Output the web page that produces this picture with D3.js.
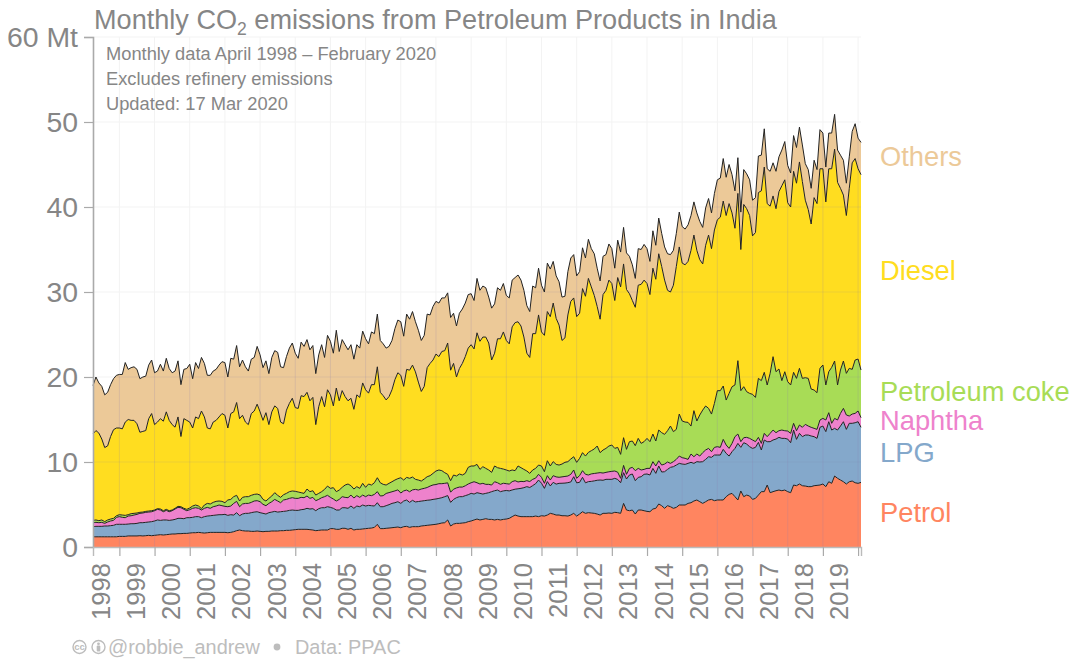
<!DOCTYPE html>
<html><head><meta charset="utf-8">
<script src="https://cdn.jsdelivr.net/npm/d3@7"></script>
<style>html,body{margin:0;padding:0;background:#fff}svg{display:block}text{font-family:"Liberation Sans",Arial,sans-serif}</style>
</head><body><svg id="c" width="1071" height="659"></svg>
<script>
// Cumulative stack levels (Mt CO2), monthly April 1998 - February 2020
const petrolTop=[1.2,1.2,1.2,1.2,1.2,1.2,1.2,1.2,1.2,1.25,
1.25,1.25,1.3,1.3,1.3,1.3,1.33,1.3,1.33,1.37,
1.33,1.37,1.41,1.45,1.41,1.45,1.49,1.53,1.53,1.57,
1.57,1.6,1.6,1.64,1.68,1.68,1.72,1.68,1.64,1.68,
1.72,1.72,1.72,1.72,1.72,1.72,1.68,1.72,1.8,1.92,
2.0,1.92,1.88,1.88,1.84,1.84,1.88,1.84,1.8,1.84,
1.84,1.88,1.88,1.88,1.92,1.92,1.96,1.96,2.0,2.04,
2.08,2.08,2.08,2.08,2.04,2.0,1.92,1.96,2.0,2.0,
2.0,2.16,2.16,2.08,2.08,2.2,2.2,2.08,2.2,2.0,
2.08,2.08,2.12,2.16,2.2,2.23,2.31,2.67,2.16,2.16,
2.2,2.23,2.27,2.31,2.35,2.27,2.39,2.43,2.31,2.39,
2.39,2.39,2.47,2.51,2.55,2.59,2.63,2.67,2.74,2.82,
2.86,3.18,2.47,2.7,2.78,2.78,2.82,2.86,2.98,3.06,
3.18,3.29,3.18,3.25,3.33,3.25,3.25,3.18,3.25,3.18,
3.25,3.29,3.37,3.57,3.76,3.64,3.57,3.57,3.57,3.57,
3.57,3.64,3.57,3.68,3.64,3.76,3.96,3.88,3.76,3.76,
3.68,3.68,3.64,3.76,3.96,3.64,3.88,4.15,3.96,4.04,
4.0,3.96,3.88,3.76,3.96,3.96,4.0,3.96,4.08,4.04,
3.96,5.13,4.35,4.27,4.35,3.88,4.35,4.35,4.27,4.19,
4.15,4.47,4.55,5.06,4.86,4.55,4.86,4.74,4.55,4.66,
4.94,4.94,4.94,5.13,5.21,5.41,5.53,5.33,5.13,5.33,
5.53,5.6,5.45,5.53,5.53,5.53,5.92,6.19,6.31,5.92,
5.53,6.59,5.92,6.11,6.0,5.6,5.72,6.11,6.51,6.51,
7.29,6.39,6.51,6.62,6.7,6.62,6.7,6.51,6.39,7.29,
7.21,7.41,7.21,7.17,7.1,7.1,7.21,7.25,7.29,7.41,
7.1,7.68,7.49,8.35,8.08,7.88,7.68,7.41,7.68,7.76,
7.56,7.49,7.6];
const lpgTop=[2.39,2.43,2.43,2.43,2.47,2.47,2.51,2.55,2.67,2.67,
2.67,2.67,2.7,2.74,2.74,2.78,2.86,2.86,2.9,2.94,
2.98,3.06,3.18,3.13,3.18,3.18,3.13,3.18,3.25,3.37,
3.37,3.33,3.45,3.45,3.49,3.57,3.57,3.45,3.57,3.64,
3.68,3.72,3.76,3.8,3.8,3.84,3.72,3.8,3.76,4.04,
3.68,3.88,3.96,3.96,4.04,4.11,4.15,4.04,3.96,3.88,
4.04,4.11,4.19,4.11,4.15,4.19,4.23,4.31,4.35,4.31,
4.31,4.39,4.43,4.55,4.47,4.51,4.27,4.51,4.62,4.62,
4.74,4.66,4.55,4.35,4.35,4.62,4.62,4.55,4.82,4.55,
4.82,4.74,4.94,4.82,4.9,4.86,4.82,5.21,4.74,4.74,
4.86,4.98,5.13,5.21,5.33,5.13,5.41,5.53,5.25,5.49,
5.3,5.35,5.4,5.45,5.5,5.53,5.6,5.65,5.72,5.8,
5.92,6.05,5.25,5.6,5.8,5.92,5.92,6.04,6.15,6.31,
6.23,6.39,6.31,6.23,6.31,6.39,6.51,6.62,6.7,6.51,
6.6,6.65,6.6,6.71,6.8,6.85,6.9,6.98,7.1,7.0,
7.22,7.45,7.88,7.5,6.9,7.7,7.18,7.61,7.4,7.49,
7.5,7.52,7.57,7.65,8.27,7.55,7.61,8.2,7.55,7.69,
7.72,7.78,7.85,7.88,7.85,7.96,7.96,7.96,8.08,7.95,
7.56,8.74,8.0,8.47,8.59,7.8,8.19,8.27,8.55,8.59,
8.47,9.25,8.66,9.53,8.82,8.86,9.13,9.37,9.45,9.64,
9.84,9.76,9.72,9.84,9.96,9.84,10.04,10.0,10.04,10.31,
10.62,10.55,10.82,10.82,10.82,11.49,11.02,10.7,11.21,11.6,
12.19,11.72,12.27,12.11,11.8,11.6,11.72,12.31,11.41,12.59,
12.39,12.39,12.59,12.7,12.9,12.78,12.78,12.7,12.27,13.76,
12.66,13.37,12.98,13.17,13.17,13.06,12.98,12.78,14.08,14.23,
13.57,14.74,13.76,13.96,13.76,14.23,14.74,13.84,14.55,14.55,
14.62,14.74,14.08];
const naphthaTop=[2.86,2.9,2.86,2.9,2.78,2.94,3.06,3.13,3.49,3.57,
3.49,3.45,3.64,3.68,3.76,3.84,3.96,4.0,4.08,4.11,
4.15,4.27,4.43,4.35,4.15,4.31,4.15,4.27,4.47,4.66,
4.62,4.43,4.27,4.39,4.55,4.62,4.55,4.35,4.55,4.66,
4.55,4.74,4.82,4.94,4.86,4.78,4.74,4.82,5.13,5.37,
4.74,5.06,5.13,5.13,5.25,5.41,5.45,5.33,5.02,4.86,
5.13,5.33,5.6,5.41,5.21,5.53,5.6,5.72,5.8,5.72,
5.72,5.84,5.8,6.0,5.72,5.84,5.45,5.6,5.8,5.92,
6.08,5.84,5.64,5.41,5.6,5.92,5.84,5.8,6.11,5.76,
6.04,5.84,6.11,5.92,6.11,6.04,6.19,6.51,6.0,6.04,
6.3,6.4,6.5,6.6,6.72,6.35,6.6,6.7,6.5,6.72,
6.78,6.7,6.82,6.9,7.0,7.17,7.3,7.35,7.45,7.45,
7.49,7.55,6.45,6.8,6.95,7.05,7.05,7.2,7.41,7.56,
7.68,7.56,7.41,7.49,7.37,7.37,7.29,7.68,7.56,7.37,
7.5,7.45,7.4,7.69,7.8,7.65,7.72,7.69,7.8,7.7,
7.96,8.1,8.55,8.2,7.49,8.39,7.88,8.39,8.25,8.2,
8.25,8.3,8.35,8.55,9.06,8.08,8.4,8.98,8.55,8.47,
8.6,8.65,8.7,8.75,8.7,8.78,8.85,8.9,8.94,8.8,
8.08,9.6,8.55,9.25,9.37,8.98,9.25,9.06,9.13,9.25,
9.25,10.04,9.53,10.15,9.64,9.76,10.0,9.84,10.04,10.31,
10.7,10.51,10.43,10.31,10.94,10.62,10.94,10.7,11.1,11.41,
11.6,11.21,11.72,11.8,11.72,12.66,12.0,11.6,12.19,12.98,
13.29,12.39,12.86,12.9,12.78,12.59,12.39,12.9,12.19,13.37,
12.98,13.37,13.76,13.45,13.68,13.76,13.68,13.64,13.37,14.55,
13.68,14.35,14.08,14.43,14.23,14.08,13.96,13.84,14.94,15.13,
14.94,15.8,14.55,15.13,14.94,15.72,16.31,15.53,15.41,15.64,
15.72,16.0,15.21];
const cokeTop=[3.13,3.18,3.1,3.18,2.98,3.18,3.29,3.37,3.68,3.8,
3.76,3.72,3.8,3.92,3.96,4.0,4.08,4.11,4.19,4.23,
4.27,4.35,4.51,4.47,4.27,4.43,4.27,4.35,4.55,4.78,
4.74,4.55,4.43,4.59,4.82,4.94,4.82,4.51,4.94,5.13,
5.06,5.25,5.37,5.41,5.37,5.21,5.53,5.6,5.92,6.08,
5.41,5.84,5.92,5.92,6.08,6.19,6.23,6.11,5.6,5.41,
5.72,6.0,6.39,6.08,5.84,6.15,6.31,6.51,6.59,6.55,
6.47,6.39,6.31,6.82,6.51,6.62,6.11,6.31,6.51,6.78,
7.17,6.9,6.98,6.51,6.7,7.02,7.29,7.41,7.21,6.82,
7.1,6.9,7.49,7.02,7.41,7.29,7.56,8.15,7.56,7.37,
7.29,7.49,7.68,7.88,8.04,8.15,7.88,8.19,8.08,8.23,
7.96,7.88,7.76,8.0,8.27,8.39,8.66,8.94,9.06,8.98,
8.74,8.55,7.8,8.47,8.35,8.59,8.47,8.66,9.37,9.53,
9.53,9.72,9.13,9.45,9.25,9.06,8.78,9.53,9.33,9.25,
9.17,9.06,8.94,9.06,8.98,9.53,9.33,9.13,8.94,8.66,
9.06,9.25,9.64,9.53,8.86,10.15,9.53,10.04,9.72,9.64,
9.76,9.96,10.04,10.35,10.62,9.96,10.43,11.1,10.7,11.13,
11.33,11.53,11.88,11.1,11.41,11.6,11.88,12.0,11.6,11.72,
10.9,12.86,11.49,12.39,12.47,11.92,12.78,12.19,12.39,12.78,
12.39,13.29,12.47,13.76,13.45,13.25,13.68,14.23,13.57,13.84,
15.64,14.82,14.7,14.66,14.23,16.04,14.82,15.53,16.11,16.59,
16.31,15.64,16.9,18.39,18.39,18.94,17.29,18.07,18.86,19.06,
21.92,18.39,18.86,18.27,18.07,17.96,17.6,19.84,19.57,20.55,
19.06,20.43,22.39,20.62,20.94,19.57,20.62,19.45,19.06,20.55,
19.84,21.02,19.84,19.92,19.84,18.58,18.47,18.15,21.02,21.41,
19.06,20.62,21.13,21.88,19.06,20.82,21.88,20.43,21.02,20.9,
22.0,22.11,20.82];
const dieselTop=[13.3,13.7,13.4,12.7,11.7,11.9,13,13.8,14,14,
13.9,14.7,15,14.9,14.9,14.5,13.5,13.6,13.7,15.1,
15.7,14.4,14.7,15.1,14.8,15.9,14.9,14.4,14.1,15.3,
13,15.1,14.9,14.7,14,15.3,15.1,16,15.3,14,
13.9,14.7,14.9,15.3,15.7,15.5,14,15.7,15.9,17,
15.1,15.5,14.7,14.4,15.7,16,16.8,15.9,14.9,15.8,
14.4,15.9,16.6,16.3,14.7,14.5,16.1,16.9,17.5,16.4,
16.3,17.8,17.7,18.2,17.2,17.6,14.4,16.5,17.7,16.5,
18.5,17.9,16.6,18.7,17.2,18.4,17.7,17.2,17.5,16.2,
17.9,17.6,19.3,18.5,18.1,19.1,19.1,21.2,18.2,17.8,
17.3,17.7,18.5,19.7,20.5,20.2,18.9,20.9,20.8,21.4,
20.6,19.4,18.3,18.9,21.1,21.6,22,22.7,22.4,23,
23.1,24,20.8,21.6,20,21,21.6,22.4,23.4,23.8,
23.3,25.2,24.2,24.7,24.7,24,22,22.8,24.5,24.5,
25.3,24.3,23.9,25.9,26.4,26.5,26,24.7,22.8,22.3,
25.1,25.1,27.3,25.3,24.9,27.7,27.1,28.7,26.9,26.1,
24.3,24.6,27.3,28.9,29.3,27.1,27.5,30.4,29.5,31.6,
30.6,29.6,28.3,26.8,29.7,30.2,31.4,31,29,31.7,
30.6,33.3,30.3,29.8,29,28.2,30.8,30.9,31.4,31,
29.7,32.8,31.5,34.5,33,31.4,30.2,30,30.8,33,
35.3,33.4,33.2,33.6,34.9,36.7,34.9,33.8,33.3,35.5,
36.7,35.1,37.3,38.5,38.8,40.7,39,40.4,39.3,37.5,
41.6,35,40.3,39.8,39,36.6,37,41.7,41.9,44.7,
40.4,40.1,41.3,39.8,41.8,42.5,43.2,40.5,40,44.2,
42.8,45.3,43,40.8,39.7,38,41.1,40.4,44.5,44.5,
40.6,44.5,44.5,46.8,42.9,42.2,41.4,39,42.2,45.2,
45.7,44.5,43.8];
const othersTop=[19.0,20.0,19.3,18.9,17.9,18.2,19.1,19.8,20.2,20.3,
20.3,21.7,20.9,21.1,21.2,20.9,19.8,20,20.1,21.4,
22,20.5,20.7,21.5,20.7,22.2,21,20.5,20.7,21.9,
19.1,20.9,21,21.5,19.8,21.7,21,22.3,21.6,20.2,
20.2,20.7,20.9,21.4,21.8,21.7,20,22.2,22.1,23.7,
21.2,22,21.2,20.7,22.1,22.3,23.6,22.6,21.1,21.9,
20.4,22.3,23.1,22.9,21.2,21.1,22.4,23.4,24,22.8,
22.2,24.1,23.6,24.4,23.2,23.7,20.4,22.6,23.8,22.3,
24.9,24.2,22.8,25.5,23,24.4,23.8,23.2,23.8,22.1,
23.8,23.4,25.4,24.5,23.9,25.3,25.1,27.4,24.3,23.9,
23.4,23.6,24.3,25.7,26.7,26.5,24.8,27.4,26.8,27.7,
26.5,25.5,24.3,24.9,27.4,27.3,28.3,28.9,28.7,29.3,
29.3,29.9,27,27.5,26,27.5,28,28.7,29.7,29.8,
29,31.6,30.2,30.7,30.5,29.4,28.1,28.6,30.5,30.2,
31,29.6,29.3,31.4,31.7,32,31.4,30.2,28.4,27.7,
30.7,30.5,32.8,30.8,30,33.4,32.7,33.6,31.9,31.2,
29.4,29.5,32.4,34,34.4,31.9,32.4,35.2,34,36.2,
35.1,34.5,32.8,31.3,34.2,34.4,35.65,35.1,32.8,36.1,
34.7,37.6,34.6,34.2,33.2,31.6,35.1,35,35.6,35.1,
33.6,37.2,35.5,38.7,36.9,35.3,34.5,34.4,34.9,36.9,
39.4,37.7,37.4,37.9,39,40.6,39.3,38.3,37.6,39.9,
41,39.3,41.6,43.2,43.4,45.7,43.5,45,43.8,41.9,
45.8,39.4,44.4,43.9,43.2,40.8,41.1,46,46.1,49.2,
44.5,44.2,45.2,44.2,45.9,46.7,47.7,44.9,44,48.4,
47,49.4,47.3,45.1,44.4,42.2,45.5,44.4,49.1,48.7,
44.7,48.7,48.7,50.9,46.7,46.1,45.5,42.8,45.9,48.9,
49.8,48.1,47.6];
const seriesNames=["Petrol","LPG","Naphtha","Petroleum coke","Diesel","Others"];
const seriesColors=["#FF8560","#84A8CB","#EE82CC","#A8DC56","#FFDD20","#ECC998"];
const labelYValues=[4.0,11.1,14.8,18.2,32.5,45.9];
const yTicks=[0,10,20,30,40,50,60];
const years=d3.range(1998,2020);
const titleA="Monthly CO",titleSub="2",titleB=" emissions from Petroleum Products in India";
const notes=["Monthly data April 1998 – February 2020","Excludes refinery emissions","Updated: 17 Mar 2020"];

const levels=[petrolTop,lpgTop,naphthaTop,cokeTop,dieselTop,othersTop];
const grey="#868686";
const svg=d3.select("#c");
const months=d3.range(petrolTop.length);
// month index: 0 = Apr 1998; January 1999 = 9
const x=d3.scaleLinear().domain([0,262]).range([93,861]);
const y=d3.scaleLinear().domain([0,60]).range([547,37]);
const jan=yr=>(yr-1998)*12-3;
const tickMonths=years.slice(1).map(jan).concat([jan(2020)]);

// light grid below
const gridBack=svg.append("g");
yTicks.forEach(t=>gridBack.append("line").attr("x1",x(0)).attr("x2",x(262)).attr("y1",y(t)).attr("y2",y(t)).attr("stroke","#f3f3f3"));
tickMonths.forEach(m=>gridBack.append("line").attr("x1",x(m)).attr("x2",x(m)).attr("y1",y(60)).attr("y2",y(0)).attr("stroke","#f3f3f3"));

levels.forEach((lv,k)=>{
  const area=d3.area().x(i=>x(i)).y0(i=>y(k?levels[k-1][i]:0)).y1(i=>y(lv[i])).curve(d3.curveLinear);
  svg.append("path").attr("d",area(months)).attr("fill",seriesColors[k]);
});
// grid showing through the fills only
svg.append("clipPath").attr("id","stackClip").append("path")
  .attr("d",d3.area().x(i=>x(i)).y0(y(0)).y1(i=>y(othersTop[i]))(months));
const gridFront=svg.append("g").attr("clip-path","url(#stackClip)");
yTicks.slice(1).forEach(t=>gridFront.append("line").attr("x1",x(0)).attr("x2",x(262)).attr("y1",y(t)).attr("y2",y(t)).attr("stroke","#8a7fb0").attr("stroke-opacity",.14));
tickMonths.forEach(m=>gridFront.append("line").attr("x1",x(m)).attr("x2",x(m)).attr("y1",y(60)).attr("y2",y(0)).attr("stroke","#8a7fb0").attr("stroke-opacity",.2));

levels.forEach(lv=>{
  const line=d3.line().x(i=>x(i)).y(i=>y(lv[i]));
  svg.append("path").attr("d",line(months)).attr("fill","none").attr("stroke","#222").attr("stroke-width",1).attr("stroke-linejoin","round");
});

// axes
const yAxis=d3.axisLeft(y).tickValues(yTicks).tickSize(9).tickPadding(6).tickFormat(d=>d===60?"60 Mt":d);
const gy=svg.append("g").attr("transform",`translate(${x(0)},0)`).call(yAxis);
gy.select(".domain").attr("stroke","#aaa").attr("stroke-width",1.6);
gy.selectAll(".tick line").attr("stroke","#aaa").attr("stroke-width",1.2);
gy.selectAll(".tick text").attr("font-size",28.4).attr("fill",grey).style("font-family",'"Liberation Sans",Arial,sans-serif');
const xAxis=d3.axisBottom(x).tickValues(tickMonths).tickSize(9).tickFormat("");
const gx=svg.append("g").attr("transform",`translate(0,${y(0)})`).call(xAxis);
gx.select(".domain").attr("stroke","#bbb").attr("stroke-width",1.4);
gx.selectAll(".tick line").attr("stroke","#aaa").attr("stroke-width",1.2);
years.forEach(yr=>{
  const c=x(jan(yr)+6);
  svg.append("text").text(yr).attr("transform",`translate(${c+8},563) rotate(-90)`).attr("text-anchor","end").attr("font-size",25.6).attr("fill",grey);
});

// title
const t=svg.append("text").attr("x",94).attr("y",29).attr("font-size",27.1).attr("fill",grey);
t.append("tspan").text(titleA);
t.append("tspan").text(titleSub).attr("font-size",17.5).attr("dy",6);
t.append("tspan").text(titleB).attr("dy",-6);
notes.forEach((n,i)=>svg.append("text").text(n).attr("x",106).attr("y",60+i*25).attr("font-size",18.3).attr("fill",grey));

// series labels
seriesNames.forEach((n,i)=>svg.append("text").text(n).attr("x",880).attr("y",y(labelYValues[i])).attr("dy",9).attr("font-size",27.3).attr("fill",seriesColors[i]));

// footer
const foot="#bdbdbd";
const fy=647;
svg.append("circle").attr("cx",79.5).attr("cy",fy).attr("r",6.5).attr("fill","none").attr("stroke",foot).attr("stroke-width",1.4);
svg.append("text").text("cc").attr("x",79.5).attr("y",fy+3).attr("text-anchor","middle").attr("font-size",9.5).attr("font-weight","bold").attr("fill",foot);
svg.append("circle").attr("cx",98.5).attr("cy",fy).attr("r",6.5).attr("fill","none").attr("stroke",foot).attr("stroke-width",1.4);
svg.append("circle").attr("cx",98.5).attr("cy",fy-3.2).attr("r",1.4).attr("fill",foot);
svg.append("rect").attr("x",96.7).attr("y",fy-1.4).attr("width",3.6).attr("height",6).attr("rx",1).attr("fill",foot);
svg.append("text").text("@robbie_andrew").attr("x",108).attr("y",654).attr("font-size",19.9).attr("fill",foot);
svg.append("circle").attr("cx",277).attr("cy",647).attr("r",3.4).attr("fill",foot);
svg.append("text").text("Data: PPAC").attr("x",295).attr("y",654).attr("font-size",19.9).attr("fill",foot);
if(levels.some(l=>l.length!==263)) console.error("length",levels.map(l=>l.length));
</script></body></html>
